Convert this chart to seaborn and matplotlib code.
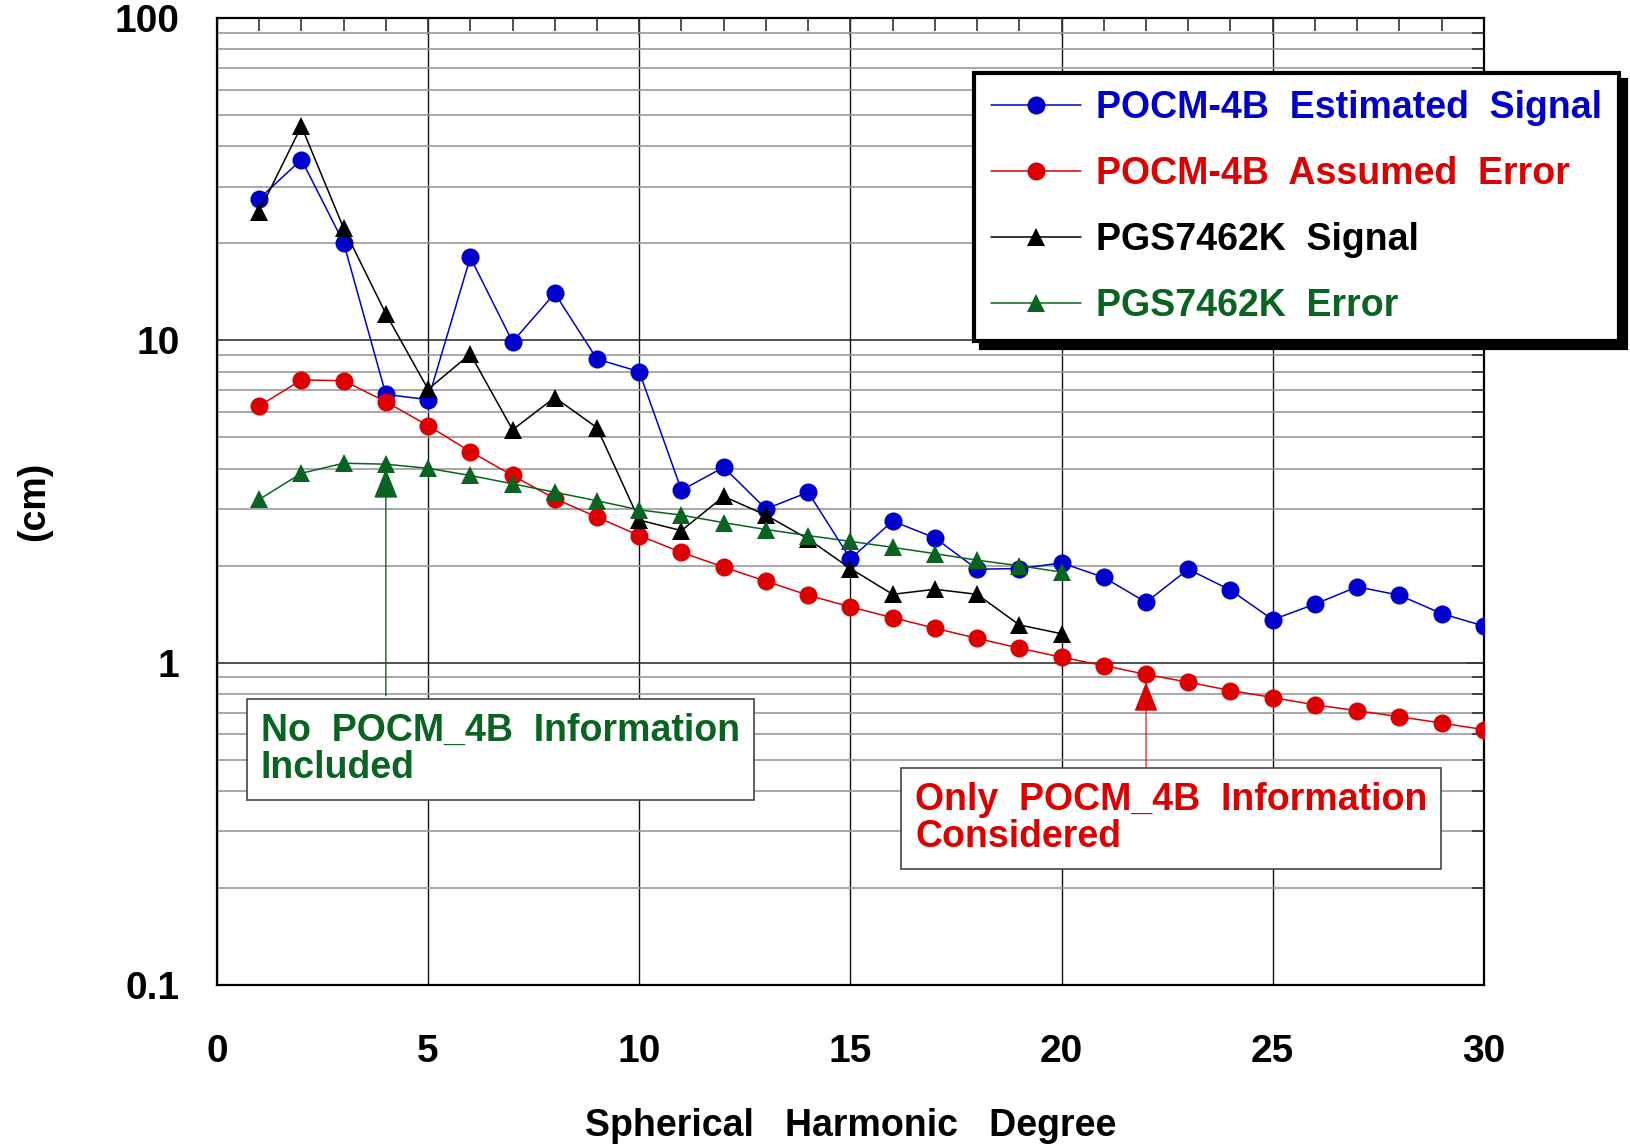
import matplotlib
matplotlib.use("Agg")
import matplotlib.pyplot as plt
import seaborn as sns
from matplotlib.ticker import FixedLocator, FixedFormatter, LogLocator, NullFormatter, MultipleLocator

# spherical harmonic degree
degree = list(range(1, 31))
pgs_degree = list(range(1, 21))

# values in cm
pocm_signal = [27.5, 36.4, 20.1, 6.8, 6.55, 18.1, 9.9, 14.0, 8.75, 8.0,
               3.43, 4.04, 3.0, 3.38, 2.1, 2.75, 2.44, 1.95, 1.96, 2.04,
               1.84, 1.54, 1.95, 1.68, 1.36, 1.52, 1.72, 1.62, 1.42, 1.30]
pocm_error = [6.26, 7.54, 7.5, 6.45, 5.44, 4.52, 3.81, 3.23, 2.83, 2.48,
              2.2, 1.98, 1.79, 1.62, 1.49, 1.38, 1.28, 1.19, 1.11, 1.04,
              0.98, 0.92, 0.87, 0.82, 0.78, 0.74, 0.71, 0.68, 0.65, 0.62]
pgs_signal = [25.1, 46.2, 22.3, 12.1, 7.05, 9.08, 5.28, 6.65, 5.36, 2.77,
              2.57, 3.28, 2.87, 2.42, 1.96, 1.63, 1.69, 1.63, 1.31, 1.23]
pgs_error = [3.21, 3.87, 4.16, 4.13, 4.01, 3.81, 3.59, 3.38, 3.18, 2.98,
             2.87, 2.72, 2.59, 2.48, 2.38, 2.28, 2.18, 2.08, 2.0, 1.91]

labels = ["POCM-4B  Estimated  Signal", "POCM-4B  Assumed  Error",
          "PGS7462K  Signal", "PGS7462K  Error"]
colors = ["#0000CC", "#DD0000", "#000000", "#0A6421"]

sns.set_style("white")
plt.rcParams["font.family"] = ["Liberation Sans", "DejaVu Sans"]
plt.rcParams["font.weight"] = "bold"
plt.rcParams["text.color"] = "black"
plt.rcParams["axes.labelcolor"] = "black"
plt.rcParams["xtick.color"] = "black"
plt.rcParams["ytick.color"] = "black"

fig = plt.figure(figsize=(16.31, 11.45), dpi=100)
ax = fig.add_axes([0.1330, 0.1397, 0.7768, 0.8445])

sns.lineplot(x=degree, y=pocm_signal, ax=ax, color=colors[0], marker="o",
             markersize=13, markeredgewidth=0, lw=1.1, label=labels[0], zorder=3)
sns.lineplot(x=degree, y=pocm_error, ax=ax, color=colors[1], marker="o",
             markersize=13, markeredgewidth=0, lw=1.1, label=labels[1], zorder=3)
sns.lineplot(x=pgs_degree, y=pgs_signal, ax=ax, color=colors[2], marker="^",
             markersize=13, markeredgewidth=0, lw=1.1, label=labels[2], zorder=4)
sns.lineplot(x=pgs_degree, y=pgs_error, ax=ax, color=colors[3], marker="^",
             markersize=13, markeredgewidth=0, lw=1.1, label=labels[3], zorder=4)

ax.set_yscale("log")
ax.set_xlim(0, 30)
ax.set_ylim(0.1, 100)

ax.xaxis.set_major_locator(MultipleLocator(5))
ax.xaxis.set_minor_locator(MultipleLocator(1))
ax.yaxis.set_major_locator(FixedLocator([0.1, 1, 10, 100]))
ax.yaxis.set_major_formatter(FixedFormatter(["0.1", "1", "10", "100"]))
ax.yaxis.set_minor_locator(LogLocator(base=10, subs=range(2, 10)))
ax.yaxis.set_minor_formatter(NullFormatter())

ax.tick_params(axis="both", which="both", direction="in", top=True, right=True,
               color="#333333", width=1.2)
ax.tick_params(axis="both", which="minor", length=9)
ax.tick_params(axis="both", which="major", length=12, labelsize=28,
               labelcolor="black")
ax.tick_params(axis="x", which="major", pad=35)
ax.tick_params(axis="y", which="major", pad=27)

ax.set_axisbelow(True)
ax.grid(which="minor", axis="y", color="#9a9a9a", lw=1.2)
ax.grid(which="major", axis="y", color="#222222", lw=1.1)
ax.grid(which="major", axis="x", color="#111111", lw=1.0)
for s in ax.spines.values():
    s.set_color("black")
    s.set_linewidth(1.6)

ax.set_xlabel("Spherical   Harmonic   Degree", fontsize=27, fontweight="bold")
ax.xaxis.set_label_coords(0.5, -0.127)
ax.set_ylabel("(cm)", fontsize=27, fontweight="bold")
ax.yaxis.set_label_coords(-0.130, 0.5)

# arrows pointing to the curves
ax.annotate("", xy=(4, 4.0), xytext=(4, 0.79),
            arrowprops=dict(arrowstyle="-|>,head_length=0.95,head_width=0.38",
                            mutation_scale=20, color=colors[3], lw=1.0,
                            shrinkA=0, shrinkB=0), zorder=5)
ax.annotate("", xy=(22, 0.87), xytext=(22, 0.472),
            arrowprops=dict(arrowstyle="-|>,head_length=0.95,head_width=0.38",
                            mutation_scale=20, color=colors[1], lw=0.8,
                            shrinkA=0, shrinkB=0), zorder=5)

ax.text(0.0347, 0.244, "No  POCM_4B  Information\nIncluded", transform=ax.transAxes,
        ha="left", va="center", fontsize=27, fontweight="bold", color=colors[3],
        linespacing=1.05, zorder=6,
        bbox=dict(boxstyle="square,pad=0.37", fc="white", ec="#444444", lw=1.2))
ax.text(0.551, 0.172, "Only  POCM_4B  Information\nConsidered", transform=ax.transAxes,
        ha="left", va="center", fontsize=27, fontweight="bold", color=colors[1],
        linespacing=1.05, zorder=6,
        bbox=dict(boxstyle="square,pad=0.37", fc="white", ec="#444444", lw=1.2))

leg = ax.legend(loc="upper left", bbox_to_anchor=(974 / 1631, 1 - 73 / 1145),
                bbox_transform=fig.transFigure, fontsize=27, frameon=True,
                fancybox=False,
                shadow={"ox": 5, "oy": -5, "facecolor": "black",
                        "edgecolor": "black", "alpha": 1},
                borderpad=0.45, handlelength=2.4, handletextpad=0.4,
                labelspacing=0.8, borderaxespad=0)
leg.get_frame().set_edgecolor("black")
leg.get_frame().set_linewidth(3)
leg.set_zorder(10)
for txt, c in zip(leg.get_texts(), colors):
    txt.set_color(c)
    txt.set_fontweight("bold")

fig.savefig("out.png", dpi=100)
